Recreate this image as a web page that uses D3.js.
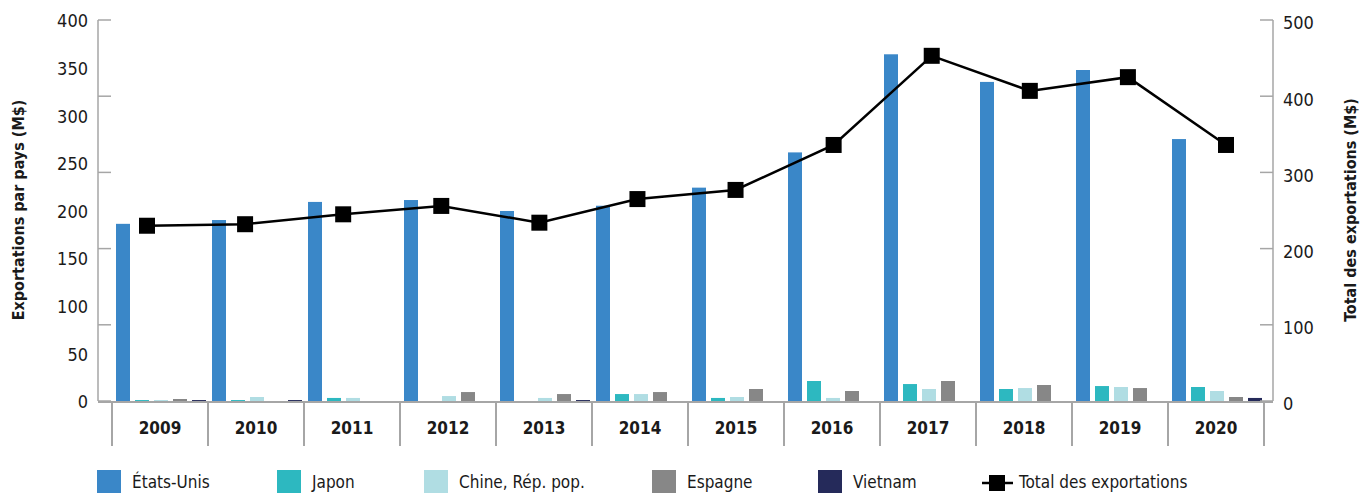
<!DOCTYPE html>
<html>
<head>
<meta charset="utf-8">
<script src="https://cdn.jsdelivr.net/npm/d3@7"></script>
<style>
  body { margin: 0; background: #fff; }
  text { font-family: "Liberation Sans Narrow", "DejaVu Sans Condensed", "Roboto Condensed", sans-serif; fill: #1a1a1a; }
</style>
</head>
<body>
<svg id="chart" width="1371" height="497"></svg>
<script>
const years = ["2009", "2010", "2011", "2012", "2013", "2014", "2015", "2016", "2017", "2018", "2019", "2020"];
const seriesNames = ["États-Unis", "Japon", "Chine, Rép. pop.", "Espagne", "Vietnam"];
const etatsUnis = [186, 190, 209, 211, 199.5, 205, 224, 261, 364, 335, 347.5, 275];
const japon     = [1, 1, 3.2, 0, 0, 7.3, 3.2, 21, 17.8, 12.6, 15.7, 14.7];
const chine     = [1, 4.2, 3.2, 5.2, 3.2, 7.3, 4.2, 3.2, 12.6, 13.6, 14.7, 10.5];
const espagne   = [2.1, 0, 0, 9.4, 7.3, 9.4, 12.6, 10.5, 21, 16.8, 13.6, 4.2];
const vietnam   = [1, 1, 0, 0, 1, 0, 0, 0, 0, 0, 0, 3.2];
const totalExports = [230, 232, 245, 256, 234, 265, 277, 336, 453, 407, 425, 336];
const leftTicks = [0, 50, 100, 150, 200, 250, 300, 350, 400];
const rightTicks = [0, 100, 200, 300, 400, 500];

const colors = ["#3a87c8", "#2db8c0", "#b0dde3", "#878787", "#252a5a"];
const seriesValues = [etatsUnis, japon, chine, espagne, vietnam];

const svg = d3.select("#chart");

const axisColor = "#a6a6a6";
const plotTop = 20, base = 401;
const leftX = 98, rightX = 1273;

const x = d3.scaleBand().domain(years).range([112, 1264]);
const xs = d3.scaleBand().domain(seriesNames).range([4, 94]).paddingInner(5 / 19);
const xLine = d3.scalePoint().domain(years).range([147, 1226]);
const yLeft = d3.scaleLinear().domain([0, 400]).range([base, plotTop]);
const yRight = d3.scaleLinear().domain([0, 500]).range([base, plotTop]);

// Bars
const groups = svg.append("g").selectAll("g")
  .data(years)
  .join("g")
  .attr("transform", d => `translate(${x(d)},0)`);

groups.selectAll("rect")
  .data((yr, i) => seriesNames.map((s, k) => ({ s, k, v: seriesValues[k][i] })))
  .join("rect")
  .attr("x", d => xs(d.s))
  .attr("width", xs.bandwidth())
  .attr("y", d => yLeft(d.v))
  .attr("height", d => base - yLeft(d.v))
  .attr("fill", d => colors[d.k]);

// Axes lines
svg.append("line")
  .attr("x1", leftX).attr("x2", rightX)
  .attr("y1", base + 1).attr("y2", base + 1)
  .attr("stroke", axisColor).attr("stroke-width", 2);
svg.append("line")
  .attr("x1", leftX).attr("x2", leftX)
  .attr("y1", plotTop).attr("y2", base)
  .attr("stroke", axisColor).attr("stroke-width", 1.5);
svg.append("line")
  .attr("x1", rightX).attr("x2", rightX)
  .attr("y1", plotTop).attr("y2", base)
  .attr("stroke", axisColor).attr("stroke-width", 1.5);

// Left tick marks (at right axis positions, as in source)
svg.append("g").selectAll("line")
  .data(rightTicks)
  .join("line")
  .attr("x1", leftX).attr("x2", leftX + 13)
  .attr("y1", d => yRight(d)).attr("y2", d => yRight(d))
  .attr("stroke", axisColor).attr("stroke-width", 1.5);

// Right tick marks
svg.append("g").selectAll("line")
  .data(rightTicks)
  .join("line")
  .attr("x1", rightX - 13).attr("x2", rightX)
  .attr("y1", d => yRight(d)).attr("y2", d => yRight(d))
  .attr("stroke", axisColor).attr("stroke-width", 1.5);

// Left labels
svg.append("g").selectAll("text")
  .data(leftTicks)
  .join("text")
  .attr("x", 88)
  .attr("y", d => yLeft(d) + 1)
  .attr("dy", "0.35em")
  .attr("text-anchor", "end")
  .style("font-size", "18px")
  .text(d => d);

// Right labels
svg.append("g").selectAll("text")
  .data(rightTicks)
  .join("text")
  .attr("x", 1283)
  .attr("y", d => yRight(d) + 3)
  .attr("dy", "0.35em")
  .attr("text-anchor", "start")
  .style("font-size", "18px")
  .text(d => d);

// Category dividers
const dividers = years.map(d => x(d)).concat([x(years[years.length - 1]) + x.bandwidth()]);
svg.append("g").selectAll("line")
  .data(dividers)
  .join("line")
  .attr("x1", d => d).attr("x2", d => d)
  .attr("y1", base).attr("y2", 446)
  .attr("stroke", axisColor).attr("stroke-width", 2);

// Year labels
svg.append("g").selectAll("text")
  .data(years)
  .join("text")
  .attr("x", d => x(d) + x.bandwidth() / 2)
  .attr("y", 428)
  .attr("dy", "0.35em")
  .attr("text-anchor", "middle")
  .style("font-size", "17px")
  .style("font-weight", "bold")
  .text(d => d);

// Axis titles
svg.append("text")
  .attr("transform", "translate(24,210) rotate(-90)")
  .attr("text-anchor", "middle")
  .style("font-size", "16px")
  .style("font-weight", "bold")
  .text("Exportations par pays (M$)");

svg.append("text")
  .attr("transform", "translate(1356,210) rotate(-90)")
  .attr("text-anchor", "middle")
  .style("font-size", "16px")
  .style("font-weight", "bold")
  .text("Total des exportations (M$)");

// Total line
const line = d3.line()
  .x((d, i) => xLine(years[i]))
  .y(d => yRight(d));

svg.append("path")
  .datum(totalExports)
  .attr("d", line)
  .attr("fill", "none")
  .attr("stroke", "#000")
  .attr("stroke-width", 2.5);

svg.append("g").selectAll("rect")
  .data(totalExports)
  .join("rect")
  .attr("x", (d, i) => xLine(years[i]) - 8)
  .attr("y", d => yRight(d) - 8)
  .attr("width", 16)
  .attr("height", 16)
  .attr("fill", "#000");

// Legend
const legendX = [97, 277, 424, 652, 818];
const legend = svg.append("g");
seriesNames.forEach((s, k) => {
  legend.append("rect")
    .attr("x", legendX[k]).attr("y", 470)
    .attr("width", 24).attr("height", 23)
    .attr("fill", colors[k]);
  legend.append("text")
    .attr("x", legendX[k] + 35).attr("y", 482)
    .attr("dy", "0.35em")
    .style("font-size", "17px")
    .text(s);
});
legend.append("line")
  .attr("x1", 982).attr("x2", 1013)
  .attr("y1", 483).attr("y2", 483)
  .attr("stroke", "#000").attr("stroke-width", 2.5);
legend.append("rect")
  .attr("x", 989).attr("y", 475)
  .attr("width", 16).attr("height", 16)
  .attr("fill", "#000");
legend.append("text")
  .attr("x", 1019).attr("y", 482)
  .attr("dy", "0.35em")
  .style("font-size", "17px")
  .text("Total des exportations");
</script>
</body>
</html>
